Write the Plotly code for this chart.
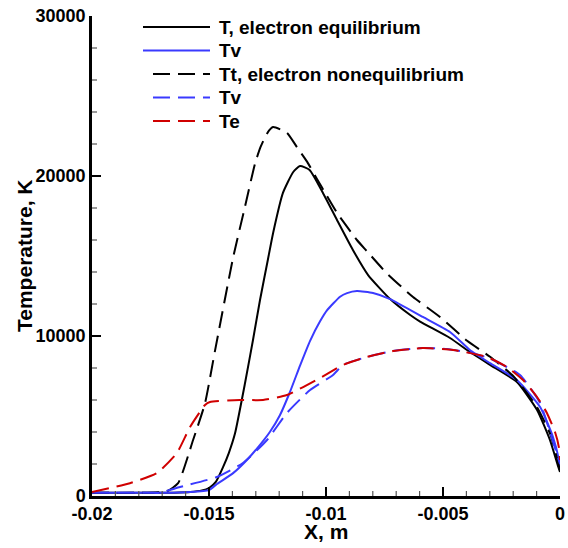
import plotly.graph_objects as go

# ---- data ----
x_T_eq = [-0.02, -0.018, -0.0165, -0.0158, -0.0153, -0.0150, -0.0147, -0.0144, -0.01415, -0.01389,
          -0.01346, -0.01312, -0.01282, -0.01248, -0.01226, -0.01184, -0.0114, -0.01111, -0.0107,
          -0.01013, -0.00953, -0.00885, -0.0082, -0.00726, -0.0064, -0.00598, -0.0047, -0.00385,
          -0.00299, -0.00184, -0.00098, -0.00043, -0.00009, 0.0]
y_T_eq = [200, 200, 210, 250, 350, 500, 900, 1800, 2700, 3900,
          7060, 9750, 12250, 14800, 16440, 18940, 20250, 20620, 20380,
          18940, 17250, 15375, 13810, 12310, 11310, 10900, 9875, 9000,
          8200, 7125, 5375, 3500, 1900, 1500]

x_Tv_eq = [-0.02, -0.017, -0.0158, -0.0150, -0.01466, -0.01397, -0.01335, -0.01282, -0.0124, -0.01197,
           -0.01154, -0.01111, -0.01068, -0.01026, -0.00996, -0.0094, -0.0091, -0.00868, -0.00799,
           -0.00726, -0.00586, -0.0047, -0.00385, -0.00299, -0.00184, -0.00085, -0.0003, -0.00005, 0.0]
y_Tv_eq = [200, 200, 250, 375, 750, 1430, 2300, 3200, 4000, 5050,
           6500, 8150, 9700, 10900, 11600, 12450, 12680, 12810, 12690,
           12310, 11190, 10250, 9125, 8300, 7250, 5560, 3690, 2300, 1750]

x_Tt_neq = [-0.02, -0.018, -0.0168, -0.01632, -0.01568, -0.01517, -0.01474, -0.01397, -0.01346, -0.01303,
            -0.0128, -0.0126, -0.01243, -0.01226, -0.01167, -0.01124, -0.01081, -0.01038, -0.00996,
            -0.00953, -0.00868, -0.00825, -0.00739, -0.00628, -0.00513, -0.00397, -0.00299, -0.002,
            -0.001, -0.0004, 0.0]
y_Tt_neq = [200, 200, 300, 800, 3500, 5800, 9100, 14900, 18100, 20800,
            21800, 22440, 22850, 23060, 22700, 21800, 20900, 19800, 18750,
            17700, 16000, 15300, 13900, 12440, 11190, 9700, 8700, 7500,
            5600, 3800, 1600]

x_Tv_neq = [-0.02, -0.0175, -0.0171, -0.01624, -0.01466, -0.01355, -0.01252, -0.01167, -0.01068, -0.0097,
            -0.00927, -0.00825, -0.00714, -0.00586, -0.00483, -0.00385, -0.003, -0.00171, -0.00085,
            -0.00043, 0.0]
y_Tv_neq = [200, 200, 200, 560, 1190, 2060, 3500, 5190, 6625, 7560,
            8190, 8690, 9060, 9250, 9190, 8950, 8600, 7560, 5810,
            4000, 2000]

x_Te = [-0.02, -0.01838, -0.01722, -0.01637, -0.01581, -0.01517, -0.01496, -0.01368, -0.01269, -0.01167,
        -0.01026, -0.00927, -0.00825, -0.00714, -0.00586, -0.00457, -0.00312, -0.00226, -0.00158,
        -0.00098, -0.00056, -0.0002, -0.00005, 0.0]
y_Te = [250, 800, 1440, 2690, 4310, 5690, 5875, 6000, 6000, 6310,
        7375, 8190, 8690, 9060, 9250, 9125, 8690, 8060, 7250,
        6190, 5190, 3940, 3060, 2250]

x_tickvals = [-0.02, -0.015, -0.01, -0.005, 0]
x_ticktext = ["-0.02", "-0.015", "-0.01", "-0.005", "0"]
y_tickvals = [0, 10000, 20000, 30000]
y_ticktext = ["0", "10000", "20000", "30000"]
x_minor = [round(i * 0.001, 4) for i in range(-20, 1)]
y_minor = [i * 2000 for i in range(0, 16)]

names = ["T, electron equilibrium", "Tv", "Tt, electron nonequilibrium", "Tv", "Te"]

BLUE = "#3a3aff"
RED = "#d00000"
DASH = "17px,8px"
FONT = "Liberation Sans, Arial, sans-serif"
XR = [-0.02, 0]
YR = [0, 30000]

# plot-area geometry (pixels) used to place the hand-drawn legend, titles and minor ticks
L, R, T, B = 92, 560, 16, 496
PW, PH = R - L, B - T


def px_x(p):
    return (p - L) / PW


def px_y(p):
    return (B - p) / PH


fig = go.Figure()
series = [
    (x_T_eq, y_T_eq, "black", "solid"),
    (x_Tv_eq, y_Tv_eq, BLUE, "solid"),
    (x_Tt_neq, y_Tt_neq, "black", DASH),
    (x_Tv_neq, y_Tv_neq, BLUE, DASH),
    (x_Te, y_Te, RED, DASH),
]
for (xs, ys, col, dash), nm in zip(series, names):
    fig.add_trace(go.Scatter(x=xs, y=ys, mode="lines", name=nm, showlegend=False,
                             line=dict(color=col, width=2, dash=dash, shape="spline", smoothing=0.5)))

# minor tick marks pointing into the plot, placed through the axes' own scales
for v in x_minor:
    if any(abs(v - t) < 1e-9 for t in x_tickvals):
        continue
    fig.add_shape(type="line", xref="x", yref="y domain", x0=v, x1=v, y0=0, y1=5 / PH,
                  opacity=1, line=dict(color="#555", width=1.2))
for v in y_minor:
    if v in y_tickvals:
        continue
    fig.add_shape(type="line", xref="x domain", yref="y", y0=v, y1=v, x0=0, x1=5 / PW,
                  opacity=1, line=dict(color="#555", width=1.2))

# legend drawn as key lines + real text annotations
for i, ((xs, ys, col, dash), nm) in enumerate(zip(series, names)):
    yrow = 27 + i * 23.5
    start = 143 if dash == "solid" else 153
    fig.add_shape(type="line", xref="paper", yref="paper", opacity=1,
                  x0=px_x(start), x1=px_x(210), y0=px_y(yrow), y1=px_y(yrow),
                  line=dict(color=col, width=2, dash=dash))
    fig.add_annotation(xref="paper", yref="paper", x=px_x(217), y=px_y(yrow),
                       xanchor="left", yanchor="middle", showarrow=False,
                       text="<b>%s</b>" % nm,
                       font=dict(family=FONT, size=19, color="black"))

# axis titles
fig.add_annotation(xref="paper", yref="paper", x=0.5, y=px_y(531), xanchor="center",
                   yanchor="middle", showarrow=False, text="<b>X, m</b>",
                   font=dict(family=FONT, size=21, color="black"))
fig.add_annotation(xref="paper", yref="paper", x=px_x(24), y=0.5, xanchor="center",
                   yanchor="middle", showarrow=False, text="<b>Temperature, K</b>", textangle=-90,
                   font=dict(family=FONT, size=21, color="black"))

axis_common = dict(
    showline=True, linecolor="black", linewidth=2.5, mirror=False,
    ticks="inside", ticklen=9, tickwidth=2, tickcolor="black",
    showgrid=False, zeroline=False, automargin=False,
    tickfont=dict(family=FONT, size=18, color="black", weight="bold"),
)

fig.update_layout(
    xaxis=dict(range=XR, tickmode="array", tickvals=x_tickvals, ticktext=x_ticktext,
               **axis_common),
    yaxis=dict(range=YR, tickmode="array", tickvals=y_tickvals, ticktext=y_ticktext,
               **axis_common),
    width=568, height=548,
    margin=dict(l=L, r=568 - R, t=T, b=548 - B),
    paper_bgcolor="white", plot_bgcolor="white",
    showlegend=False,
)

fig.write_html("out.html")
